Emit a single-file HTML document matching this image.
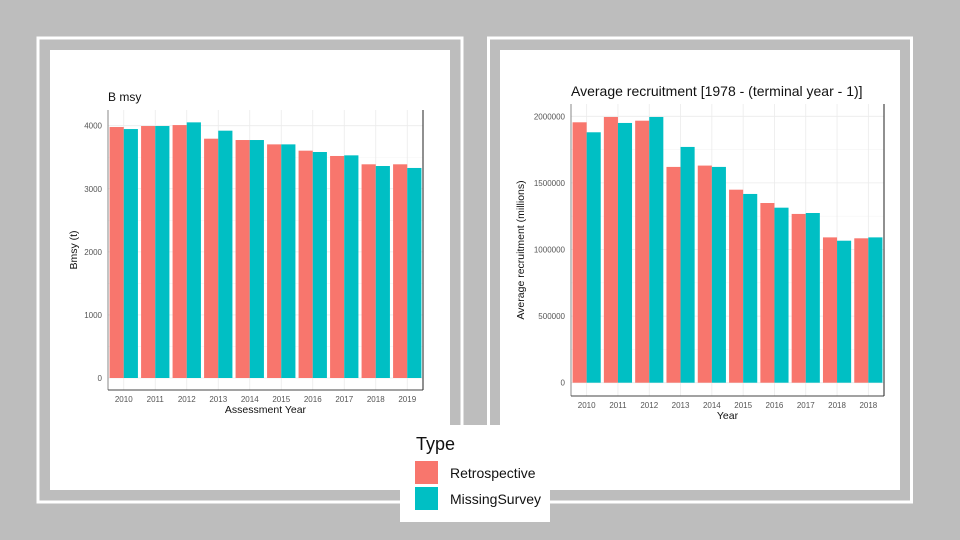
<!DOCTYPE html>
<html><head><meta charset="utf-8"><style>
html,body{margin:0;padding:0;background:#bdbdbd;width:960px;height:540px;overflow:hidden}
svg{display:block;font-family:"Liberation Sans",sans-serif}
</style></head><body>
<svg id="s" width="960" height="540">
<rect x="0" y="0" width="960" height="540" fill="#bdbdbd"/>
<rect x="38" y="38" width="424" height="464" fill="none" stroke="#fff" stroke-width="3"/>
<rect x="50" y="50" width="400" height="440" fill="#fff"/>
<rect x="488.5" y="38" width="423" height="464" fill="none" stroke="#fff" stroke-width="3"/>
<rect x="500" y="50" width="400" height="440" fill="#fff"/>
<g id="c1"></g>
<g id="c2"></g>
<g>
<rect x="400" y="425" width="150" height="97" fill="#fff"/>
<text x="416" y="450" font-size="18" fill="#111">Type</text>
<rect x="415" y="461" width="23" height="23" fill="#f8766d"/>
<text x="450" y="478" font-size="14" fill="#111">Retrospective</text>
<rect x="415" y="487" width="23" height="23" fill="#00bfc4"/>
<text x="450" y="504" font-size="14" fill="#111">MissingSurvey</text>
</g>
</svg>
<script>
const years1 = ["2010","2011","2012","2013","2014","2015","2016","2017","2018","2019"];
const retro1 = [3979,3995,4010,3794,3773,3704,3604,3520,3388,3388];
const miss1 = [3947,3995,4053,3921,3773,3704,3583,3530,3361,3330];
const ticks1 = [0,1000,2000,3000,4000];
const years2 = ["2010","2011","2012","2013","2014","2015","2016","2017","2018","2018"];
const retro2 = [1955000,1995000,1967000,1620000,1630000,1449000,1349000,1267000,1091000,1084000];
const miss2 = [1880000,1950000,1995000,1770000,1620000,1417000,1314000,1274000,1066000,1091000];
const ticks2 = [0,500000,1000000,1500000,2000000];
const NS="http://www.w3.org/2000/svg";
function mk(p,tag,a,txt){const e=document.createElementNS(NS,tag);for(const k in a)e.setAttribute(k,a[k]);if(txt!==undefined)e.textContent=txt;p.appendChild(e);return e;}
function chart(g,o){
  const {x0,x1,y0,yTop,y1,zeroY,topVal,topY,cats,r,m,ticks,title,titleSize,xlab,ylab,ylabX}=o;
  const ys=v=>zeroY-(v/topVal)*(zeroY-topY);
  const step=(x1-x0)/cats.length;
  const xs=i=>x0+step*(i+0.5);
  // grid
  for(let i=0;i<ticks.length;i++){
    const l=mk(g,'line',{x1:x0,x2:x1,y1:ys(ticks[i]),y2:ys(ticks[i]),stroke:'#ebebeb','stroke-width':0.8});
    
    
    if(i<ticks.length-1){const mv=(ticks[i]+ticks[i+1])/2;
      const l2=mk(g,'line',{x1:x0,x2:x1,y1:ys(mv),y2:ys(mv),stroke:'#f4f4f4','stroke-width':0.6});
      
      }
    const t=mk(g,'text',{x:x0-6,y:ys(ticks[i])+3,'font-size':8,'text-anchor':'end',fill:'#555'},String(ticks[i]));
    
    
  }
  cats.forEach((c,i)=>{
    const l=mk(g,'line',{x1:xs(i),x2:xs(i),y1:yTop,y2:y1,stroke:'#ebebeb','stroke-width':0.8});
    
    
  });
  const bw=step*0.9/2;
  cats.forEach((c,i)=>{
    const a=mk(g,'rect',{x:xs(i)-bw,y:ys(r[i]),width:bw,height:zeroY-ys(r[i]),fill:'#f8766d'});
    
    
    const b=mk(g,'rect',{x:xs(i),y:ys(m[i]),width:bw,height:zeroY-ys(m[i]),fill:'#00bfc4'});
    
    
    const t=mk(g,'text',{x:xs(i),y:y1+12,'font-size':8,'text-anchor':'middle',fill:'#555'},c);
    
    
  });
  const la=mk(g,'line',{x1:x0,x2:x0,y1:yTop,y2:y1,stroke:'#888','stroke-width':1});
  
  
  const ba=mk(g,'line',{x1:x0,x2:x1,y1:y1,y2:y1,stroke:'#444','stroke-width':1});
  
  
  const ra=mk(g,'line',{x1:x1,x2:x1,y1:yTop,y2:y1,stroke:'#222','stroke-width':1});
  
  
  const tt=mk(g,'text',{x:o.titleX,y:o.titleY,'font-size':titleSize,fill:'#111'},title);
  
  
  const xl=mk(g,'text',{x:(x0+x1)/2,y:y1+23,'font-size':10.5,'text-anchor':'middle',fill:'#111'},xlab);
  
  
  const cy=(yTop+y1)/2;
  const yl=mk(g,'text',{x:ylabX,y:cy,'font-size':10.5,'text-anchor':'middle',fill:'#111',transform:`rotate(-90 ${ylabX} ${cy})`},ylab);
  
  
}
chart(document.getElementById('c1'),{x0:108,x1:423,yTop:110,y1:390,zeroY:378,topVal:4000,topY:125.7,cats:years1,r:retro1,m:miss1,ticks:ticks1,title:'B msy',titleSize:12,titleX:108,titleY:101,xlab:'Assessment Year',ylab:'Bmsy (t)',ylabX:77});
chart(document.getElementById('c2'),{x0:571,x1:884,yTop:104,y1:396,zeroY:382.7,topVal:2000000,topY:116.3,cats:years2,r:retro2,m:miss2,ticks:ticks2,title:'Average recruitment [1978 - (terminal year - 1)]',titleSize:14,titleX:571,titleY:96,xlab:'Year',ylab:'Average recruitment (millions)',ylabX:524});
</script>
</body></html>
